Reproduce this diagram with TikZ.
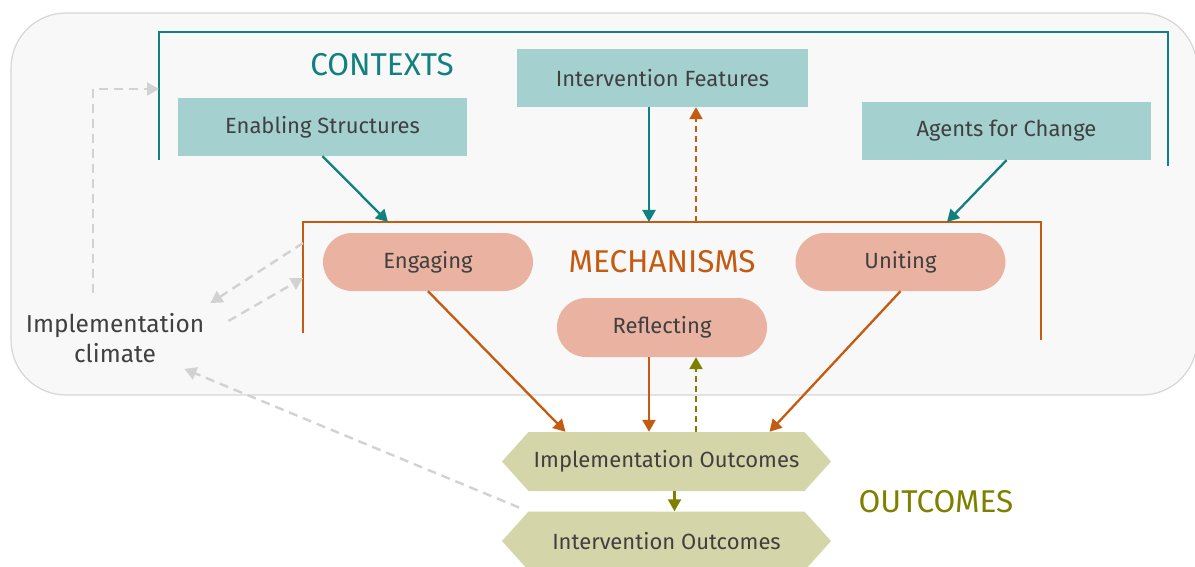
\documentclass[tikz,border=0pt]{standalone}
\usepackage{fontspec}
\setmainfont{Fira Sans}
\usetikzlibrary{positioning,arrows.meta,shapes.symbols}
\definecolor{ctxteal}{RGB}{16,128,128}
\definecolor{ctxfill}{RGB}{165,208,208}
\definecolor{mechorange}{RGB}{197,90,17}
\definecolor{mechfill}{RGB}{234,179,161}
\definecolor{outolive}{RGB}{128,128,0}
\definecolor{outfill}{RGB}{212,213,168}
\definecolor{climgray}{RGB}{210,210,210}
\definecolor{labelgray}{RGB}{64,64,64}
\definecolor{panelfill}{RGB}{248,248,248}
\definecolor{panelline}{RGB}{214,214,214}

\begin{document}
\begin{tikzpicture}[
    x=1pt, y=-1pt,
    >={Triangle[length=12pt,width=13pt]},
    every text node part/.style={align=center},
    context/.style={
      % The shape: a flat box
      rectangle,
      minimum width=289pt, minimum height=58pt,
      fill=ctxfill,
      % Font
      text=labelgray,
      font=\fontsize{22}{26}\selectfont,
    },
    mechanism/.style={
      % a pill
      rectangle, rounded corners=29pt,
      minimum width=210pt, minimum height=58pt,
      fill=mechfill,
      text=labelgray,
      font=\fontsize{22}{26}\selectfont,
    },
    outcome/.style={
      % pointed at both ends
      signal, signal to=west and east, signal pointer angle=96,
      minimum width=329pt, minimum height=59pt,
      fill=outfill,
      text=labelgray,
      font=\fontsize{22}{26}\selectfont,
    },
    heading/.style={font=\fontsize{31.5}{34}\selectfont},
    bracket/.style={line width=2.6pt},
    ctxarrow/.style={->, line width=2.3pt, color=ctxteal},
    mecharrow/.style={->, line width=2.3pt, color=mechorange},
    outarrow/.style={->, line width=2.3pt, color=outolive},
    climarrow/.style={->, line width=2.4pt, color=climgray, dash pattern=on 9pt off 6pt},
  ]

    \useasboundingbox (0,0) rectangle (1195,567);
    % the panel behind contexts and mechanisms
    \draw[panelline, fill=panelfill, line width=1.2pt, rounded corners=55pt]
          (11,13) rectangle (1197,395);

    % brackets
    \draw[bracket, ctxteal] (159,160) -- (159,32) -- (1168,32) -- (1168,166);
    \draw[bracket, mechorange] (303,333) -- (303,222) -- (1041,222) -- (1041,340);
    \coordinate (ctxL) at (159,89);
    \coordinate (mechL1) at (303,243);
    \coordinate (mechL2) at (303,278);
    \coordinate (mechA) at (388,222);
    \coordinate (mechB) at (947,222);

    \node[heading, text=ctxteal] (ctxtitle) at (382,65) {CONTEXTS};
    \node[heading, text=mechorange] (mechtitle) at (662,262) {MECHANISMS};
    \node[heading, text=outolive] (outtitle) at (936,502) {OUTCOMES};

    \node[context] (enabling) at (322.5,127) {Enabling Structures};
    \node[context, minimum width=291pt] (features) at (662.5,78) {Intervention Features};
    \node[context] (agents) at (1006.5,131) {Agents for Change};

    \node[mechanism] (engaging) at (428,262) {Engaging};
    \node[mechanism] (uniting) at (900.5,262) {Uniting};
    \node[mechanism, minimum height=59pt] (reflecting) at (662,327.5) {Reflecting};

    \node[outcome] (implout) at (666.5,461.5) {Implementation Outcomes};
    \node[outcome] (intout) at (666.5,541) {Intervention Outcomes};

    \node[text=labelgray, font=\fontsize{24.5}{30}\selectfont, inner sep=6pt]
          (climate) at (115,338) {Implementation\\climate};

    % contexts into mechanisms
    \draw[ctxarrow] (enabling.south) -- (mechA);
    \draw[ctxarrow] ([xshift=-13.5pt]features.south) -- ([xshift=-13.5pt]features.south |- mechA);
    \draw[mecharrow, dash pattern=on 6pt off 4pt]
          ([xshift=33.5pt]features.south |- mechA) -- ([xshift=33.5pt]features.south);
    \draw[ctxarrow] (agents.south) -- (mechB);

    % mechanisms into outcomes
    \draw[mecharrow] (engaging.south) -- ([xshift=-101pt]implout.north);
    \draw[mecharrow] ([xshift=-13pt]reflecting.south) -- ([xshift=-13pt]reflecting.south |- implout.north);
    \draw[outarrow, dash pattern=on 6pt off 4pt]
          ([xshift=34pt]reflecting.south |- implout.north) -- ([xshift=34pt]reflecting.south);
    \draw[mecharrow] (uniting.south) -- ([xshift=103pt]implout.north);
    \draw[outarrow] ([xshift=8pt]implout.south) -- ([xshift=8pt]intout.north);

    % implementation climate
    \draw[climarrow] ([xshift=-22pt, yshift=14pt]climate.north) |- (ctxL);
    \draw[climarrow] (mechL1) -- ([yshift=4pt]climate.north east);
    \draw[climarrow] ([xshift=18pt, yshift=17pt]climate.east) -- (mechL2);
    \draw[climarrow, shorten <=10pt] (intout.north west) -- ([xshift=-26pt]climate.south east);
  \end{tikzpicture}
\end{document}
